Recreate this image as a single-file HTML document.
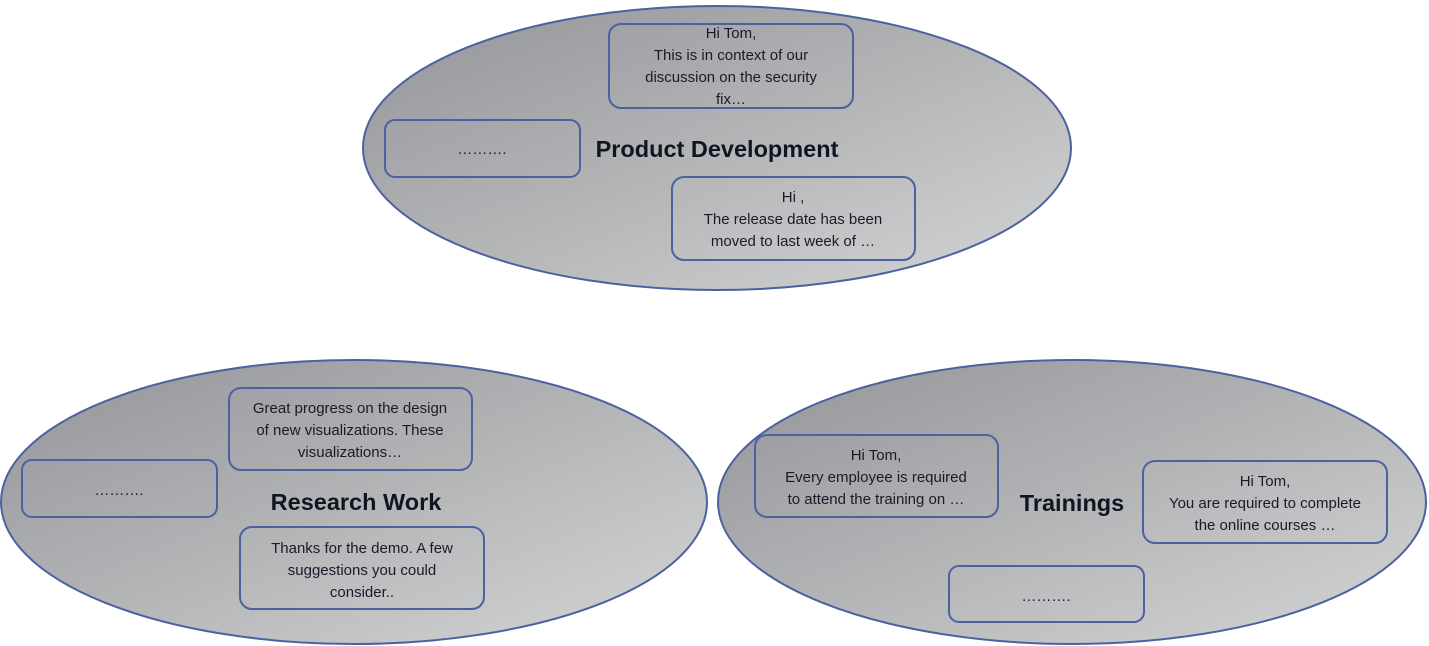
<!DOCTYPE html>
<html><head><meta charset="utf-8"><style>
html,body{margin:0;padding:0;background:#fff;}
svg{display:block;}
.b{fill:none;stroke:#4a62a0;stroke-width:2;}
.t{font-family:"Liberation Sans",sans-serif;font-size:15px;fill:#1a1a2a;text-anchor:middle;}
.h{font-family:"Liberation Sans",sans-serif;font-size:23.5px;font-weight:bold;fill:#111522;text-anchor:middle;}
</style></head><body>
<svg width="1429" height="646" viewBox="0 0 1429 646" xmlns="http://www.w3.org/2000/svg">
<defs>
<linearGradient id="g" x1="0" y1="0" x2="1" y2="1">
<stop offset="0" stop-color="#929498"/>
<stop offset="0.5" stop-color="#b2b4b6"/>
<stop offset="1" stop-color="#d4d6d6"/>
</linearGradient>
</defs>
<ellipse cx="717" cy="148" rx="354" ry="142" fill="url(#g)" stroke="#4a62a0" stroke-width="2"/>
<ellipse cx="354" cy="502" rx="353" ry="142" fill="url(#g)" stroke="#4a62a0" stroke-width="2"/>
<ellipse cx="1072" cy="502" rx="354" ry="142" fill="url(#g)" stroke="#4a62a0" stroke-width="2"/>

<rect class="b" x="609" y="24" width="244" height="84" rx="12"/>
<text class="t" x="731" y="38">Hi Tom,</text>
<text class="t" x="731" y="60">This is in context of our</text>
<text class="t" x="731" y="82">discussion on the security</text>
<text class="t" x="731" y="104">fix…</text>
<rect class="b" x="385" y="120" width="195" height="57" rx="10"/>
<text class="t" x="482" y="154">……….</text>
<text class="h" x="717" y="157">Product Development</text>
<rect class="b" x="672" y="177" width="243" height="83" rx="12"/>
<text class="t" x="793" y="202">Hi ,</text>
<text class="t" x="793" y="224">The release date has been</text>
<text class="t" x="793" y="246">moved to last week of …</text>

<rect class="b" x="229" y="388" width="243" height="82" rx="12"/>
<text class="t" x="350" y="413">Great progress on the design</text>
<text class="t" x="350" y="435">of new visualizations. These</text>
<text class="t" x="350" y="457">visualizations…</text>
<rect class="b" x="22" y="460" width="195" height="57" rx="10"/>
<text class="t" x="119" y="495">……….</text>
<text class="h" x="356" y="510">Research Work</text>
<rect class="b" x="240" y="527" width="244" height="82" rx="12"/>
<text class="t" x="362" y="553">Thanks for the demo. A few</text>
<text class="t" x="362" y="575">suggestions you could</text>
<text class="t" x="362" y="597">consider..</text>

<rect class="b" x="755" y="435" width="243" height="82" rx="12"/>
<text class="t" x="876" y="460">Hi Tom,</text>
<text class="t" x="876" y="482">Every employee is required</text>
<text class="t" x="876" y="504">to attend the training on …</text>
<text class="h" x="1072" y="511">Trainings</text>
<rect class="b" x="1143" y="461" width="244" height="82" rx="12"/>
<text class="t" x="1265" y="486">Hi Tom,</text>
<text class="t" x="1265" y="508">You are required to complete</text>
<text class="t" x="1265" y="530">the online courses …</text>
<rect class="b" x="949" y="566" width="195" height="56" rx="10"/>
<text class="t" x="1046" y="601">……….</text>
</svg>
</body></html>
